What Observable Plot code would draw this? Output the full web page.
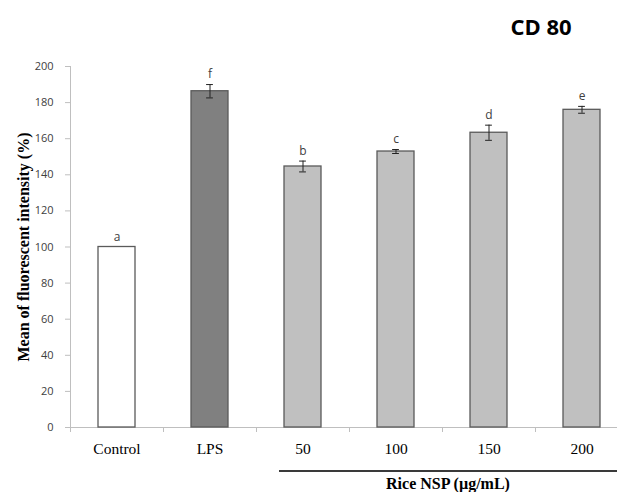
<!DOCTYPE html>
<html>
<head>
<meta charset="utf-8">
<script src="https://cdn.jsdelivr.net/npm/d3@7"></script>
<script src="https://cdn.jsdelivr.net/npm/@observablehq/plot@0.6"></script>
<style>
html, body { margin: 0; padding: 0; background: #fff; }
#wrap { position: relative; width: 617px; height: 492px; overflow: hidden; background: #fff; }
#wrap svg { position: absolute; left: 0; top: 0; }
#title { position: absolute; left: 481px; top: 15px; width: 120px; text-align: center;
  font: 700 22px/22px "Open Sans", sans-serif; color: #000; }
#groupline { position: absolute; left: 279px; top: 470px; width: 360px; border-top: 2px solid #3a3a3a; }
#grouplabel { position: absolute; left: 279px; top: 476px; width: 338px; text-align: center;
  font: 700 16px/16px "Liberation Serif", serif; color: #000; }
#wrap [aria-label^="y-axis"] line, #wrap [aria-label^="y-axis"] path { stroke: #bfbfbf; }
#wrap [aria-label^="y-axis"] text { fill: #404040; font-family: "Open Sans", sans-serif; font-size: 11px; }
#wrap [aria-label^="x-axis"] text { fill: #000; font-family: "Liberation Serif", serif; font-size: 15.5px; }
</style>
</head>
<body>
<div id="wrap">
  <div id="title">CD 80</div>
  <div id="groupline"></div>
  <div id="grouplabel">Rice NSP (µg/mL)</div>
</div>
<script>
// ---- data ----
const categories = ["Control", "LPS", "50", "100", "150", "200"];
const groups = ["Control", "LPS", "Rice NSP", "Rice NSP", "Rice NSP", "Rice NSP"];
const means = [100, 186.3, 144.6, 152.9, 163.3, 176.0];
const errors = [0, 3.7, 3.0, 1.1, 4.2, 1.9];
const letters = ["a", "f", "b", "c", "d", "e"];
const yTicks = [0, 20, 40, 60, 80, 100, 120, 140, 160, 180, 200];
const yLabel = "Mean of fluorescent intensity (%)";

// ---- layout ----
const W = 617, H = 492;
const mLeft = 70, xEnd = 628, mTop = 66, yBottom = 427;
const step = (xEnd - mLeft) / categories.length;
const bandw = step * 0.4;
const capW = 7;

const data = categories.map((c, i) => ({
  cat: c, group: groups[i], mean: means[i], err: errors[i], letter: letters[i]
}));
const withErr = data.filter(d => d.err > 0);

const chart = Plot.plot({
  width: W,
  height: H,
  marginLeft: mLeft,
  marginRight: 0,
  marginTop: mTop,
  marginBottom: H - yBottom,
  style: { background: "transparent", fontFamily: "Open Sans", fontSize: "11px", color: "#404040" },
  x: { domain: categories, range: [mLeft, xEnd], paddingInner: 0.6, paddingOuter: 0.3,
       tickSize: 0, tickPadding: 15, label: null },
  y: { domain: [0, 200], ticks: yTicks, tickSize: 5, tickPadding: 12, label: null },
  color: { domain: ["Control", "LPS", "Rice NSP"], range: ["#ffffff", "#808080", "#c0c0c0"] },
  marks: [
    Plot.ruleY([0], { stroke: "#bfbfbf" }),
    Plot.ruleX([categories[0]], { x: d => d, y1: 0, y2: 200, dx: -step / 2, stroke: "#bfbfbf" }),
    Plot.ruleX(categories, { x: d => d, y1: 0, y2: 0, insetBottom: -5, dx: -step / 2, stroke: "#bfbfbf" }),
    Plot.barY(data, { x: "cat", y: "mean", fill: "group", stroke: "#5a5a5a", strokeWidth: 1.3 }),
    Plot.ruleX(withErr, { x: "cat", y1: d => d.mean - d.err, y2: d => d.mean + d.err, stroke: "#222", strokeWidth: 1 }),
    Plot.tickY(withErr, { x: "cat", y: d => d.mean + d.err, insetLeft: (bandw - capW) / 2, insetRight: (bandw - capW) / 2, stroke: "#222" }),
    Plot.tickY(withErr, { x: "cat", y: d => d.mean - d.err, insetLeft: (bandw - capW) / 2, insetRight: (bandw - capW) / 2, stroke: "#222" }),
    Plot.text(data, { x: "cat", y: d => d.mean + d.err, text: "letter", dy: -10,
      fontFamily: "Open Sans", fontSize: 12, fill: "#404040" }),
    Plot.text([yLabel], { text: d => d, frameAnchor: "left", textAnchor: "middle", lineAnchor: "middle",
      rotate: -90, dx: -47,
      fontFamily: "Liberation Serif", fontWeight: "bold", fontSize: 16, fill: "#000" })
  ]
});
document.getElementById("wrap").prepend(chart);
</script>
</body>
</html>
